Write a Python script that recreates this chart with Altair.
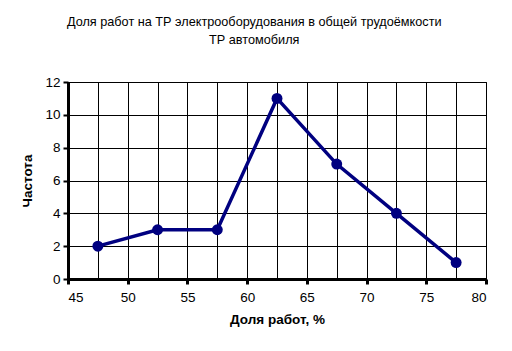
import altair as alt
import pandas as pd

share = [47.5, 52.5, 57.5, 62.5, 67.5, 72.5, 77.5]
freq = [2, 3, 3, 11, 7, 4, 1]
x_grid = [45, 47.5, 50, 52.5, 55, 57.5, 60, 62.5, 65, 67.5, 70, 72.5, 75, 77.5, 80]
y_ticks = [0, 2, 4, 6, 8, 10, 12]

df = pd.DataFrame({"share": share, "freq": freq})
navy = "#000080"
font = "Liberation Sans"

x = alt.X("share:Q",
          scale=alt.Scale(domain=[45, 80], nice=False, zero=False),
          axis=alt.Axis(values=x_grid, title="Доля работ, %",
                        labelExpr="datum.value % 5 == 0 ? datum.label : ''",
                        tickOpacity={"expr": "datum.value % 5 == 0 ? 1 : 0"},
                        tickSize=5, tickWidth=3, tickColor="black",
                        domainColor="black", domainWidth=3,
                        gridColor="black", gridWidth=1, gridOpacity=1,
                        labelFont=font, labelFontSize=13.5, labelColor="black",
                        labelPadding=6, titleFont=font, titleFontSize=13.5,
                        titleFontWeight="bold", titleColor="black", titlePadding=9))
y = alt.Y("freq:Q",
          scale=alt.Scale(domain=[0, 12], nice=False),
          axis=alt.Axis(values=y_ticks, title="Частота",
                        tickSize=5, tickWidth=2, tickColor="black",
                        domainColor="black", domainWidth=3,
                        gridColor="black", gridWidth=1, gridOpacity=1,
                        labelFont=font, labelFontSize=13.5, labelColor="black",
                        labelPadding=3, titleFont=font, titleFontSize=13.5,
                        titleFontWeight="bold", titleColor="black", titlePadding=10))

line = alt.Chart(df).mark_line(color=navy, strokeWidth=3.5).encode(x=x, y=y)
pts = alt.Chart(df).mark_point(color=navy, filled=True, opacity=1, size=120).encode(x=x, y=y)

chart = (line + pts).properties(
    width=418, height=197,
    padding={"left": 68, "top": 82, "right": 26, "bottom": 72},
    autosize=alt.AutoSizeParams(type="none"),
    background="white",
    title=alt.TitleParams(["Доля работ на ТР электрооборудования в общей трудоёмкости", "ТР автомобиля"],
                          font=font, fontSize=12.7, fontWeight="normal", color="black",
                          anchor="middle", frame="bounds", offset=28, lineHeight=18),
).configure_view(stroke="black", strokeWidth=1)

chart.save("out.html", embed_options={"renderer": "svg", "actions": False})
